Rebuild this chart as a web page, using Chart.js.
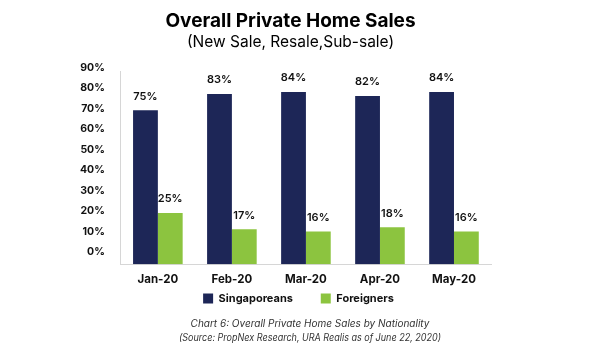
<!DOCTYPE html>
<html>
<head>
<meta charset="utf-8">
<script src="https://cdn.jsdelivr.net/npm/chart.js@4"></script>
<style>
body{margin:0;background:#fff;}
#wrap{width:601px;height:360px;position:relative;}
</style>
</head>
<body>
<div id="wrap"><canvas id="grafico" width="601" height="360"></canvas></div>
<script>
const categorias = ["Jan-20", "Feb-20", "Mar-20", "Apr-20", "May-20"];
const singaporeans = [75, 83, 84, 82, 84];
const foreigners = [25, 17, 16, 18, 16];
const nota1 = "Chart 6: Overall Private Home Sales by Nationality";
const nota2 = "(Source: PropNex Research, URA Realis as of June 22, 2020)";

const fuente = "Inter, 'Noto Sans', sans-serif";

// etiquetas de valor encima de cada barra
const etiquetas = {
  id: "etiquetas",
  afterDatasetsDraw(chart){
    const ctx = chart.ctx;
    ctx.save();
    ctx.font = "600 11px " + fuente;
    ctx.fillStyle = "#111";
    ctx.textAlign = "center";
    ctx.textBaseline = "middle";
    chart.data.datasets.forEach(function(ds, i){
      const meta = chart.getDatasetMeta(i);
      meta.data.forEach(function(bar, j){
        ctx.fillText(ds.data[j] + "%", bar.x, bar.y - 14);
      });
    });
    ctx.restore();
  }
};

// nota al pie
const nota = {
  id: "nota",
  afterDraw(chart){
    const ctx = chart.ctx;
    ctx.save();
    ctx.font = "italic 10px " + fuente;
    ctx.fillStyle = "#333";
    ctx.textAlign = "center";
    ctx.textBaseline = "middle";
    ctx.fillText(nota1, 310, 324, 240);
    ctx.fillText(nota2, 310, 338, 262);
    ctx.restore();
  }
};

// mover titulo y leyenda un poco a la derecha
const mover = {
  id: "mover",
  afterLayout(chart){
    chart.boxes.forEach(function(b){
      if (b.position === "top") { b.left += 9; b.right += 9; }
    });
    chart.legend.left += 17;
    chart.legend.right += 17;
  }
};

const ctx = document.getElementById("grafico");

let grafico = new Chart(ctx, {
  type: "bar",
  data: {
    labels: categorias,
    datasets: [
      {
        label: "Singaporeans",
        data: singaporeans,
        backgroundColor: "#1d2657"
      },
      {
        label: "Foreigners",
        data: foreigners,
        backgroundColor: "#8cc43f"
      }
    ]
  },
  options: {
    responsive: false,
    animation: false,
    layout: {
      padding: {left: 72, right: 110, top: 4, bottom: 46}
    },
    datasets: {
      bar: {categoryPercentage: 0.67, barPercentage: 1}
    },
    scales: {
      x: {
        grid: {display: false},
        border: {display: true, color: "#d6d6d6"},
        ticks: {
          color: "#111",
          font: {family: fuente, size: 11.5, weight: "bold"},
          padding: 0
        }
      },
      y: {
        min: 0,
        max: 94,
        grid: {display: false},
        border: {display: true, color: "#d6d6d6"},
        ticks: {
          stepSize: 10,
          includeBounds: false,
          labelOffset: -12,
          padding: 8,
          color: "#111",
          font: {family: fuente, size: 10.5, weight: "bold"},
          callback: function(v){ return v + "%"; }
        }
      }
    },
    plugins: {
      title: {
        display: true,
        text: "Overall Private Home Sales",
        color: "#000",
        font: {family: fuente, size: 19, weight: "bold"},
        padding: {top: 6, bottom: 0}
      },
      subtitle: {
        display: true,
        text: "(New Sale, Resale,Sub-sale)",
        color: "#000",
        font: {family: fuente, size: 15.5},
        padding: {top: 0, bottom: 20}
      },
      legend: {
        position: "bottom",
        labels: {
          boxWidth: 10,
          boxHeight: 10,
          padding: 7,
          color: "#111",
          font: {family: fuente, size: 11, weight: "bold"},
          generateLabels: function(chart){
            const items = Chart.defaults.plugins.legend.labels.generateLabels(chart);
            items[0].text = items[0].text + "        ";
            return items;
          }
        }
      },
      tooltip: {enabled: false}
    }
  },
  plugins: [etiquetas, nota, mover]
});
</script>
</body>
</html>
